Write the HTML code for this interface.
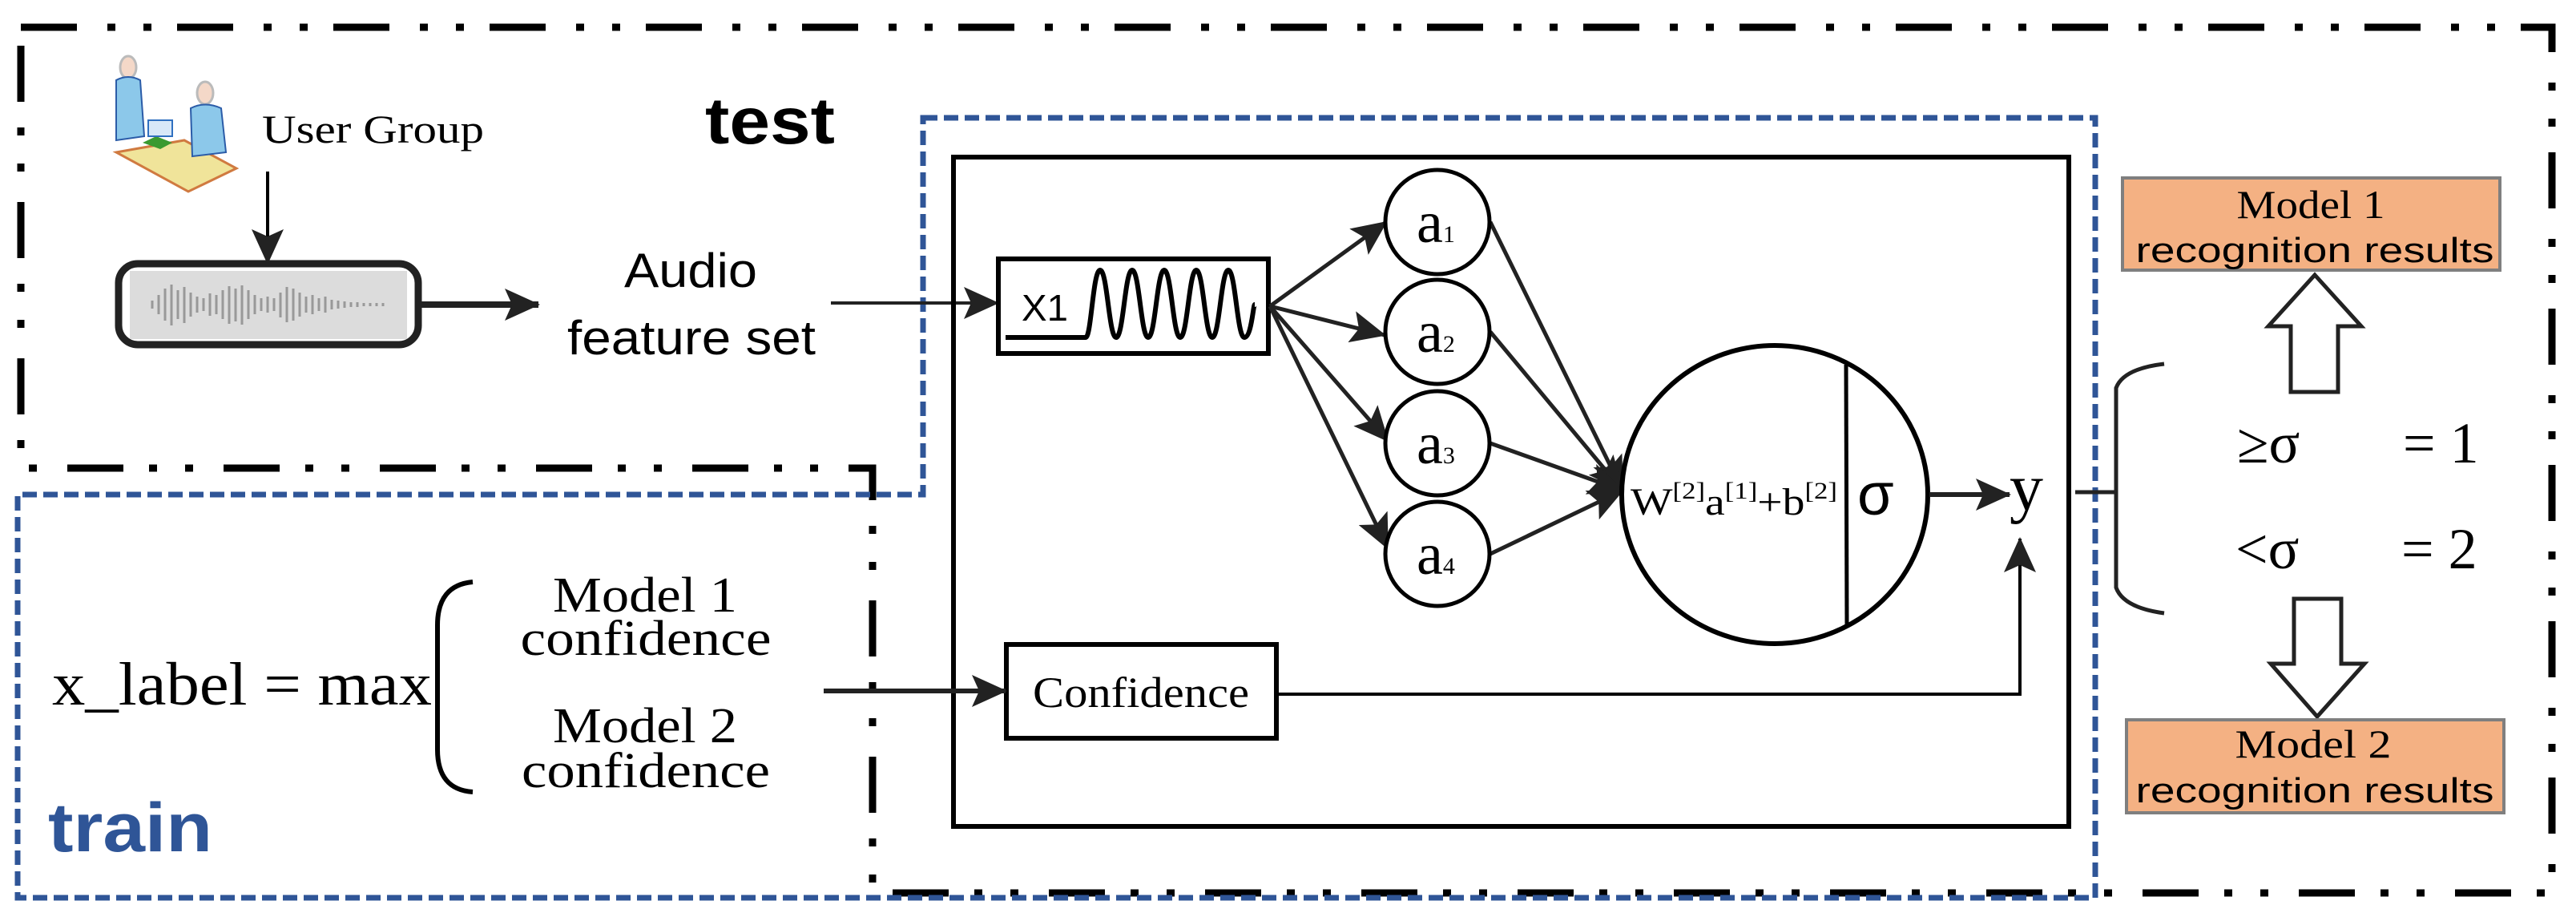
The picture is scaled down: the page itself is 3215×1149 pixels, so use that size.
<!DOCTYPE html>
<html><head><meta charset="utf-8"><style>
html,body{margin:0;padding:0;background:#fff;}
svg{display:block;}
.ser{font-family:"Liberation Serif",serif;}
.san{font-family:"Liberation Sans",sans-serif;}
</style></head><body>
<svg width="3215" height="1149" viewBox="0 0 3215 1149" xmlns="http://www.w3.org/2000/svg">
<defs>
<marker id="ah" markerUnits="userSpaceOnUse" markerWidth="46" markerHeight="40" refX="42" refY="20" orient="auto">
<path d="M0,0 L44,20 L0,40 L9,20 Z" fill="#222"/>
</marker>
</defs>
<path d="M26,34 L3185,34 L3185,1114 L1089,1114 L1089,584 L26,584 Z" fill="none" stroke="#000" stroke-width="9" stroke-dasharray="70 38 10 35 10 32"/>
<path d="M1152,147 L2615,147 L2615,1120 L22,1120 L22,617 L1152,617 Z" fill="none" stroke="#2F5597" stroke-width="7" stroke-dasharray="18 8"/>

<g>
<polygon points="145,190 230,175 295,210 235,239" fill="#f0e49a" stroke="#d07a40" stroke-width="3"/>
<ellipse cx="160" cy="84" rx="10" ry="14" fill="#f4d8c8" stroke="#bbb" stroke-width="3"/>
<path d="M145,100 Q160,92 175,100 L180,170 L145,175 Z" fill="#8cc8ea" stroke="#2b5ca8" stroke-width="2"/>
<ellipse cx="256" cy="116" rx="10" ry="14" fill="#f4d8c8" stroke="#bbb" stroke-width="3"/>
<path d="M238,135 Q256,126 276,135 L282,190 L240,195 Z" fill="#8cc8ea" stroke="#2b5ca8" stroke-width="2"/>
<polygon points="178,178 195,170 215,178 200,186" fill="#3a9a30"/>
<rect x="185" y="150" width="30" height="20" fill="#d8e8f8" stroke="#3070c0" stroke-width="2"/>
</g>
<text x="327" y="178" class="ser" font-size="50" textLength="277" lengthAdjust="spacingAndGlyphs">User Group</text>
<line x1="334" y1="214" x2="334" y2="328" stroke="#000" stroke-width="4" marker-end="url(#ah)"/>
<text x="880" y="179" class="san" font-size="82" font-weight="bold" textLength="162" lengthAdjust="spacingAndGlyphs">test</text>

<rect x="148" y="329" width="374" height="101" rx="24" fill="#fff" stroke="#222" stroke-width="9"/>
<rect x="162" y="338" width="346" height="85" fill="#dcdcdc"/>
<g stroke="#999" stroke-width="3">
<line x1="190" y1="375" x2="190" y2="385"/><line x1="198" y1="368" x2="198" y2="392"/><line x1="206" y1="360" x2="206" y2="400"/><line x1="214" y1="355" x2="214" y2="406"/><line x1="222" y1="362" x2="222" y2="398"/><line x1="230" y1="358" x2="230" y2="403"/><line x1="238" y1="365" x2="238" y2="395"/><line x1="246" y1="370" x2="246" y2="390"/><line x1="254" y1="372" x2="254" y2="388"/><line x1="262" y1="366" x2="262" y2="394"/><line x1="270" y1="368" x2="270" y2="392"/><line x1="278" y1="362" x2="278" y2="398"/><line x1="286" y1="357" x2="286" y2="404"/><line x1="294" y1="360" x2="294" y2="401"/><line x1="302" y1="356" x2="302" y2="405"/><line x1="310" y1="362" x2="310" y2="398"/><line x1="318" y1="368" x2="318" y2="392"/><line x1="326" y1="372" x2="326" y2="388"/><line x1="334" y1="370" x2="334" y2="390"/><line x1="342" y1="372" x2="342" y2="388"/><line x1="350" y1="365" x2="350" y2="396"/><line x1="358" y1="358" x2="358" y2="402"/><line x1="366" y1="360" x2="366" y2="400"/><line x1="374" y1="365" x2="374" y2="395"/><line x1="382" y1="370" x2="382" y2="390"/><line x1="390" y1="368" x2="390" y2="392"/><line x1="398" y1="372" x2="398" y2="388"/><line x1="406" y1="370" x2="406" y2="390"/><line x1="414" y1="374" x2="414" y2="386"/><line x1="422" y1="375" x2="422" y2="385"/><line x1="430" y1="376" x2="430" y2="384"/><line x1="438" y1="377" x2="438" y2="383"/><line x1="446" y1="377" x2="446" y2="383"/><line x1="454" y1="378" x2="454" y2="382"/><line x1="462" y1="378" x2="462" y2="382"/><line x1="470" y1="378" x2="470" y2="382"/><line x1="478" y1="378" x2="478" y2="382"/>
</g>
<line x1="522" y1="380" x2="672" y2="380" stroke="#222" stroke-width="8" marker-end="url(#ah)"/>
<text x="862" y="358" class="san" font-size="60" text-anchor="middle" textLength="166" lengthAdjust="spacingAndGlyphs">Audio</text>
<text x="863" y="442" class="san" font-size="60" text-anchor="middle" textLength="310" lengthAdjust="spacingAndGlyphs">feature set</text>
<line x1="1037" y1="378" x2="1245" y2="378" stroke="#222" stroke-width="4" marker-end="url(#ah)"/>

<rect x="1190" y="196" width="1392" height="835" fill="none" stroke="#000" stroke-width="6"/>
<rect x="1246" y="323" width="337" height="118" fill="#fff" stroke="#000" stroke-width="6"/>
<text x="1275" y="400" class="san" font-size="46" textLength="58" lengthAdjust="spacingAndGlyphs">X1</text>
<path d="M1255,421 L1355,421 C1362,421 1364,337 1373,337 C1382,337 1384,421 1393,421 C1402,421 1404,337 1413,337 C1422,337 1424,421 1433,421 C1442,421 1444,337 1453,337 C1462,337 1464,421 1473,421 C1482,421 1484,337 1493,337 C1502,337 1504,421 1513,421 C1522,421 1524,337 1533,337 C1542,337 1544,421 1553,421 C1562,421 1564,380 1566,380" fill="none" stroke="#000" stroke-width="6"/>

<g stroke="#222" stroke-width="5" fill="none">
<line x1="1585" y1="382" x2="1730" y2="277" marker-end="url(#ah)"/>
<line x1="1585" y1="382" x2="1728" y2="418" marker-end="url(#ah)"/>
<line x1="1585" y1="382" x2="1732" y2="550" marker-end="url(#ah)"/>
<line x1="1585" y1="382" x2="1732" y2="684" marker-end="url(#ah)"/>
<line x1="1860" y1="277" x2="2025" y2="612" marker-end="url(#ah)"/>
<line x1="1860" y1="414" x2="2025" y2="612" marker-end="url(#ah)"/>
<line x1="1860" y1="553" x2="2025" y2="612" marker-end="url(#ah)"/>
<line x1="1860" y1="691" x2="2025" y2="612" marker-end="url(#ah)"/>
</g>
<g stroke="#000" stroke-width="5" fill="#fff">
<ellipse cx="1794" cy="277" rx="65" ry="65"/>
<ellipse cx="1794" cy="414" rx="65" ry="65"/>
<ellipse cx="1794" cy="553" rx="65" ry="65"/>
<ellipse cx="1794" cy="691" rx="65" ry="65"/>
</g>
<g class="ser" font-size="74">
<text x="1768" y="302">a<tspan font-size="30">1</tspan></text>
<text x="1768" y="439">a<tspan font-size="30">2</tspan></text>
<text x="1768" y="578">a<tspan font-size="30">3</tspan></text>
<text x="1768" y="716">a<tspan font-size="30">4</tspan></text>
</g>
<ellipse cx="2215" cy="617" rx="191" ry="186" fill="none" stroke="#000" stroke-width="6"/>
<line x1="2304" y1="455" x2="2305" y2="781" stroke="#000" stroke-width="5"/>
<text x="2035" y="642" class="ser" font-size="48" textLength="258" lengthAdjust="spacingAndGlyphs">W<tspan font-size="30" dy="-20">[2]</tspan><tspan dy="20">a</tspan><tspan font-size="30" dy="-20">[1]</tspan><tspan dy="20">+b</tspan><tspan font-size="30" dy="-20">[2]</tspan></text>
<text x="2318" y="642" class="san" font-size="74">σ</text>
<line x1="2408" y1="617" x2="2508" y2="617" stroke="#222" stroke-width="6" marker-end="url(#ah)"/>
<text x="2508" y="636" class="ser" font-size="84">y</text>

<rect x="1256" y="804" width="337" height="117" fill="#fff" stroke="#000" stroke-width="6"/>
<text x="1424" y="882" class="ser" font-size="54" text-anchor="middle" textLength="270" lengthAdjust="spacingAndGlyphs">Confidence</text>
<polyline points="1593,866 2521,866 2521,672" fill="none" stroke="#000" stroke-width="4" marker-end="url(#ah)"/>

<text x="65" y="879" class="ser" font-size="76" textLength="474" lengthAdjust="spacingAndGlyphs">x_label = max</text>
<path d="M590,726 Q546,730 546,780 L546,935 Q546,985 590,988" fill="none" stroke="#000" stroke-width="6"/>
<g class="ser" font-size="62" text-anchor="middle">
<text x="805" y="763" textLength="230" lengthAdjust="spacingAndGlyphs">Model 1</text>
<text x="806" y="817" textLength="313" lengthAdjust="spacingAndGlyphs">confidence</text>
<text x="805" y="926" textLength="230" lengthAdjust="spacingAndGlyphs">Model 2</text>
<text x="806" y="982" textLength="310" lengthAdjust="spacingAndGlyphs">confidence</text>
</g>
<line x1="1028" y1="862" x2="1255" y2="862" stroke="#222" stroke-width="6" marker-end="url(#ah)"/>
<text x="60" y="1062" class="san" font-size="86" font-weight="bold" fill="#2F5597" textLength="205" lengthAdjust="spacingAndGlyphs">train</text>

<line x1="2590" y1="614" x2="2641" y2="614" stroke="#222" stroke-width="5"/>
<path d="M2701,454 Q2650,460 2641,484 L2641,733 Q2650,758 2701,765" fill="none" stroke="#222" stroke-width="5"/>
<g class="ser" font-size="72">
<text x="2792" y="577">≥σ</text>
<text x="2999" y="577">= 1</text>
<text x="2790" y="709">&lt;σ</text>
<text x="2997" y="709">= 2</text>
</g>
<polygon points="2889,343 2947,407 2918,407 2918,489 2859,489 2859,407 2831,407" fill="#fff" stroke="#222" stroke-width="5"/>
<polygon points="2863,747 2922,747 2922,828 2951,828 2892,894 2834,828 2863,828" fill="#fff" stroke="#222" stroke-width="5"/>
<rect x="2649" y="222" width="471" height="115" fill="#F4B183" stroke="#7f7f7f" stroke-width="4"/>
<text x="2884" y="272" class="ser" font-size="50" text-anchor="middle" textLength="185" lengthAdjust="spacingAndGlyphs">Model 1</text>
<text x="2889" y="327" class="san" font-size="44" text-anchor="middle" textLength="447" lengthAdjust="spacingAndGlyphs">recognition results</text>
<rect x="2654" y="898" width="471" height="116" fill="#F4B183" stroke="#7f7f7f" stroke-width="4"/>
<text x="2887" y="945" class="ser" font-size="50" text-anchor="middle" textLength="195" lengthAdjust="spacingAndGlyphs">Model 2</text>
<text x="2889" y="1001" class="san" font-size="44" text-anchor="middle" textLength="447" lengthAdjust="spacingAndGlyphs">recognition results</text>
</svg>
</body></html>
